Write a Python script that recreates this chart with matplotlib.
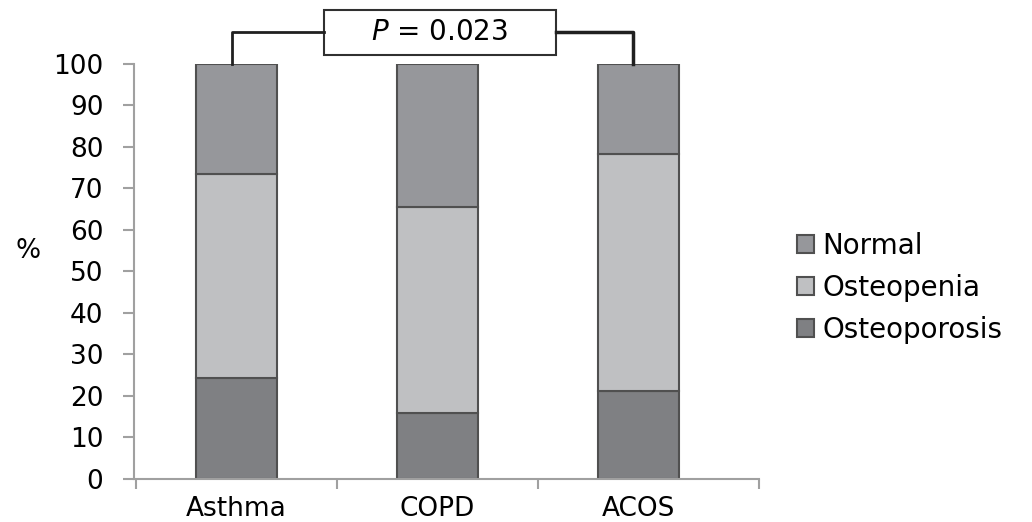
import numpy as np
import matplotlib.pyplot as plt
from matplotlib.patches import Rectangle

plt.rcParams['font.family'] = ['DejaVu Sans']

groups = ['Asthma', 'COPD', 'ACOS']
osteoporosis = [24.3, 16.0, 21.2]
osteopenia = [49.2, 49.6, 57.0]
normal = [26.5, 34.4, 21.8]

c_norm = '#96979b'
c_penia = '#bfc0c2'
c_poros = '#7f8083'
edge = '#505050'
fs = 19

fig = plt.figure(figsize=(10.32, 5.22), dpi=100)
ax = fig.add_axes([0.1298, 0.0824, 0.6057, 0.7950])

x = np.arange(len(groups))
w = 0.4
b1 = ax.bar(x, osteoporosis, w, color=c_poros, edgecolor=edge, linewidth=1.5, label='Osteoporosis')
bottom2 = np.array(osteoporosis)
b2 = ax.bar(x, osteopenia, w, bottom=bottom2, color=c_penia, edgecolor=edge, linewidth=1.5, label='Osteopenia')
bottom3 = bottom2 + np.array(osteopenia)
b3 = ax.bar(x, normal, w, bottom=bottom3, color=c_norm, edgecolor=edge, linewidth=1.5, label='Normal')

ax.set_xlim(-0.51, 2.6)
ax.set_ylim(0, 100)
ax.set_yticks(np.arange(0, 101, 10))
ax.set_xticks(x)
ax.set_xticklabels(groups, fontsize=fs)
ax.set_xticks([-0.5, 0.5, 1.5, 2.6], minor=True)
ax.tick_params(axis='x', which='major', length=0, pad=12)
ax.tick_params(axis='x', which='minor', length=7, color='#a0a0a0', width=1.5)
ax.tick_params(axis='y', length=8, color='#a0a0a0', width=1.5, labelsize=fs, pad=14)
for s in ['top', 'right']:
    ax.spines[s].set_visible(False)
for s in ['left', 'bottom']:
    ax.spines[s].set_color('#a0a0a0')
    ax.spines[s].set_linewidth(1.5)
ax.text(-0.17, 55, '%', transform=ax.get_yaxis_transform(), fontsize=fs,
        ha='center', va='center')

# significance bracket
yb = 107.7
ax.plot([-0.02, -0.02, 0.436], [100, yb, yb], color='#202020', lw=2, clip_on=False)
ax.plot([1.589, 1.975, 1.975], [yb, yb, 100], color='#202020', lw=2.5, clip_on=False)
ax.add_patch(Rectangle((0.436, 102.2), 1.153, 10.8, facecolor='white',
                       edgecolor='#303030', lw=1.5, clip_on=False))
ax.text(1.01, yb, '$\\it{P}$ = 0.023', fontsize=fs + 1, ha='center', va='center')

fig.legend(handles=[b3, b2, b1], labels=['Normal', 'Osteopenia', 'Osteoporosis'],
           loc='center left', bbox_to_anchor=(797 / 1032, 1 - 288 / 522), frameon=False,
           fontsize=fs + 1, borderpad=0, borderaxespad=0,
           handlelength=0.6, handleheight=0.6, handletextpad=0.3, labelspacing=0.5)

fig.savefig('out.png', dpi=100)
